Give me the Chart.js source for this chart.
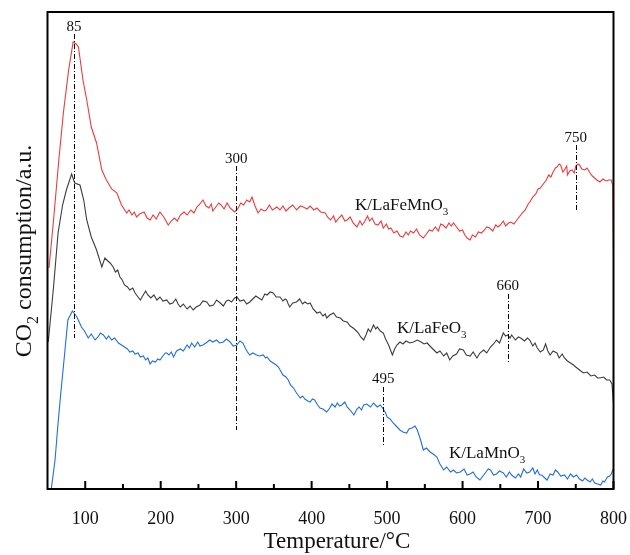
<!DOCTYPE html>
<html>
<head>
<meta charset="utf-8">
<script src="https://cdn.jsdelivr.net/npm/chart.js@4"></script>
<style>
  body { margin: 0; background: #fff; }
  #wrap { width: 630px; height: 555px; }
</style>
</head>
<body>
<div id="wrap"><canvas id="chart" width="630" height="555"></canvas></div>
<script>
// CO2-TPD curves (signal in a.u.)
var feMnTemp = [52, 58, 65, 71, 78, 84, 88, 91, 97, 102, 108, 115, 122,
  128, 135, 142, 148, 155, 158, 162, 165, 168, 172, 178, 182, 186, 190, 194, 199, 204, 210, 214, 218, 222, 226, 231, 235, 240, 244, 248, 252, 256, 260, 264, 267, 269, 273, 277, 280, 284, 288, 292, 295, 298, 302, 306, 310, 314, 318, 321, 325, 329, 333, 337, 340, 344, 348, 354, 358, 362, 366, 370, 375, 380, 385, 389, 394, 398, 403, 407, 412, 418, 421, 425, 429, 432, 436, 440, 444, 447, 451, 455, 460, 464, 467, 470, 474, 477, 480, 484, 488, 492, 495, 499, 502, 505, 509, 513, 517, 521, 525, 528, 531, 535, 539, 543, 548, 552, 556, 560, 564, 568, 571, 574, 578, 582, 585, 588, 592, 596, 600, 603, 606, 610, 613, 617, 621, 625, 629, 632, 636, 640, 644, 647, 650, 654, 657, 661, 664, 668, 672, 676, 679, 683, 687, 690, 693, 697, 700, 703, 707, 711, 714, 717, 720, 723, 725, 728, 730, 733, 735, 738, 739, 742, 745, 748, 750, 753, 755, 758, 762, 765, 769, 772, 775, 778, 782, 786, 790, 794, 797, 799, 800];
var feMnSignal = [221, 269, 329, 376, 419, 447, 445, 442, 409, 389, 362, 346, 319,
  309, 300, 296, 284, 276, 279, 274, 277, 272, 275, 277, 271, 269, 274, 270, 277, 272, 264, 268, 271, 268, 274, 277, 274, 279, 276, 282, 285, 289, 283, 281, 285, 278, 282, 286, 284, 280, 286, 281, 279, 277, 280, 286, 284, 289, 287, 292, 283, 276, 280, 278, 279, 284, 279, 282, 279, 283, 278, 281, 284, 279, 283, 282, 280, 283, 279, 281, 277, 276, 272, 269, 273, 267, 271, 274, 268, 269, 272, 266, 262, 268, 264, 267, 273, 268, 271, 265, 264, 268, 261, 265, 260, 261, 256, 258, 253, 252, 257, 254, 258, 256, 260, 254, 251, 255, 259, 258, 262, 258, 265, 264, 261, 266, 263, 266, 262, 258, 259, 254, 251, 249, 254, 252, 257, 256, 259, 262, 261, 258, 264, 262, 264, 268, 263, 266, 267, 265, 269, 273, 276, 279, 285, 288, 292, 295, 300, 301, 305, 309, 314, 312, 317, 321, 322, 325, 324, 317, 319, 323, 314, 318, 319, 316, 323, 325, 324, 320, 319, 321, 316, 313, 311, 309, 307, 310, 308, 309, 309, 304, 232];

var feTemp = [51, 58, 64, 70, 75, 82, 86, 93, 98, 102, 108, 115,
  122, 126, 130, 133, 137, 140, 143, 146, 149, 152, 156, 159, 163, 166, 170, 173, 176, 180, 183, 187, 191, 195, 199, 203, 208, 212, 216, 220, 223, 226, 230, 235, 239, 243, 247, 252, 256, 261, 265, 270, 274, 279, 283, 287, 290, 294, 298, 301, 305, 310, 314, 318, 322, 326, 330, 334, 338, 341, 345, 349, 353, 358, 362, 365, 367, 369, 371, 375, 380, 384, 388, 391, 395, 398, 402, 407, 411, 415, 418, 420, 424, 429, 433, 438, 442, 447, 451, 455, 458, 462, 465, 469, 472, 475, 478, 482, 485, 487, 491, 495, 498, 502, 505, 507, 510, 513, 517, 521, 525, 530, 535, 540, 545, 549, 553, 558, 562, 566, 570, 575, 579, 583, 587, 592, 596, 601, 605, 610, 614, 619, 623, 628, 632, 637, 641, 645, 649, 654, 657, 660, 663, 665, 670, 674, 677, 682, 686, 689, 693, 696, 699, 703, 707, 710, 713, 716, 720, 725, 728, 732, 735, 739, 743, 747, 750, 755, 760, 765, 770, 775, 779, 782, 787, 791, 795, 798, 800];
var feSignal = [147, 202, 256, 284, 299, 315, 306, 304, 289, 269, 252, 239,
  222, 231, 228, 226, 222, 217, 219, 212, 209, 204, 202, 199, 201, 196, 192, 189, 193, 198, 194, 191, 194, 189, 192, 188, 189, 185, 186, 190, 185, 182, 185, 180, 183, 179, 182, 184, 188, 187, 183, 184, 189, 186, 183, 188, 189, 187, 191, 192, 188, 189, 185, 187, 190, 193, 191, 189, 195, 194, 197, 196, 192, 192, 188, 190, 189, 185, 182, 186, 187, 190, 185, 187, 185, 186, 180, 176, 177, 173, 175, 171, 174, 176, 172, 171, 168, 167, 163, 161, 159, 156, 152, 149, 154, 160, 157, 164, 160, 162, 158, 156, 150, 144, 138, 134, 140, 144, 147, 145, 148, 146, 147, 149, 147, 145, 146, 142, 139, 136, 138, 133, 136, 129, 133, 135, 140, 139, 134, 133, 137, 131, 136, 139, 136, 142, 145, 149, 146, 156, 153, 154, 151, 154, 149, 152, 151, 148, 151, 149, 143, 146, 141, 137, 139, 145, 138, 134, 138, 136, 131, 135, 131, 128, 126, 124, 122, 119, 116, 117, 113, 114, 111, 111, 112, 109, 109, 105, 86];

var mnTemp = [55, 60, 64, 68, 71, 77, 83,
  89, 92, 95, 99, 104, 108, 113, 117, 120, 124, 128, 131, 135, 139, 144, 148, 152, 156, 159, 163, 166, 170, 173, 177, 180, 183, 186, 189, 193, 196, 199, 203, 206, 208, 211, 214, 217, 221, 226, 230, 235, 238, 241, 245, 249, 252, 256, 260, 265, 269, 274, 278, 283, 287, 292, 296, 301, 305, 309, 312, 315, 318, 322, 327, 331, 336, 339, 341, 345, 349, 353, 356, 359, 362, 366, 369, 372, 376, 380, 385, 388, 391, 395, 398, 401, 404, 408, 411, 415, 420, 424, 427, 431, 434, 437, 440, 444, 447, 451, 453, 456, 460, 463, 466, 469, 473, 478, 482, 487, 491, 495, 498, 500, 504, 508, 512, 517, 521, 526, 529, 533, 537, 540, 544, 548, 552, 557, 561, 566, 570, 575, 579, 584, 588, 592, 597, 602, 606, 610, 614, 618, 623, 627, 630, 634, 637, 641, 645, 649, 654, 658, 662, 665, 670, 674, 677, 681, 685, 689, 693, 696, 699, 702, 705, 709, 712, 716, 720, 723, 726, 730, 735, 739, 743, 747, 751, 755, 759, 762, 765, 769, 772, 775, 779, 783, 786, 788, 792, 795, 797, 799, 800];
var mnSignal = [0, 29, 66, 99, 122, 169, 178,
  172, 167, 162, 158, 151, 155, 149, 152, 156, 154, 150, 153, 149, 151, 146, 144, 142, 140, 137, 138, 135, 136, 132, 133, 129, 131, 125, 128, 127, 130, 129, 133, 136, 136, 134, 137, 132, 138, 140, 138, 144, 141, 146, 142, 147, 143, 144, 146, 149, 147, 149, 146, 147, 150, 147, 143, 144, 148, 146, 141, 137, 134, 136, 134, 133, 134, 131, 132, 128, 126, 124, 122, 118, 114, 112, 109, 104, 101, 96, 91, 93, 90, 88, 87, 90, 89, 84, 81, 80, 77, 81, 85, 82, 86, 83, 84, 87, 82, 79, 77, 74, 80, 82, 79, 84, 85, 82, 86, 82, 84, 80, 76, 72, 70, 66, 63, 59, 57, 56, 60, 61, 63, 59, 50, 39, 41, 37, 35, 32, 25, 19, 22, 17, 19, 16, 17, 20, 14, 15, 17, 12, 9, 13, 16, 20, 19, 14, 15, 18, 16, 12, 17, 14, 11, 15, 12, 20, 16, 17, 21, 15, 19, 14, 14, 11, 9, 15, 14, 19, 17, 13, 14, 10, 15, 12, 14, 10, 8, 11, 9, 7, 10, 6, 5, 4, 8, 7, 12, 13, 15, 19, 20];

var tickTemps = [100, 200, 300, 400, 500, 600, 700, 800];
var minorTemps = [150, 250, 350, 450, 550, 650, 750];

// peak markers: temperature, label
var peakTemps = [85, 300, 750, 660, 495];
var peakLabels = ['85', '300', '750', '660', '495'];

var seriesNames = ['K/LaFeMnO', 'K/LaFeO', 'K/LaMnO'];

var serif = '"Liberation Serif", "Times New Roman", serif';

// where the peak markers sit (a.u.): label baseline, line top, line bottom
var peakGeom = [
  { label: 458, top: 455, bottom: 151 },
  { label: 326, top: 323, bottom: 59 },
  { label: 347, top: 344, bottom: 279 },
  { label: 199, top: 195, bottom: 125 },
  { label: 106, top: 102, bottom: 44 }
];
// series name anchors (left edge temp, baseline a.u.)
var nameGeom = [
  { x: 457.5, y: 279 },
  { x: 513, y: 156 },
  { x: 582, y: 31 }
];

function pts(t, v) {
  return t.map(function (x, i) { return { x: x, y: v[i] }; });
}

function subText(ctx, main, sub, x, y, size) {
  ctx.font = size + 'px ' + serif;
  ctx.fillText(main, x, y);
  var w = ctx.measureText(main).width;
  ctx.font = Math.round(size * 0.65) + 'px ' + serif;
  ctx.fillText(sub, x + w, y + size * 0.3);
}

var decor = {
  id: 'decor',
  afterDatasetsDraw: function (chart) {
    var ctx = chart.ctx, a = chart.chartArea;
    var xs = chart.scales.x, ys = chart.scales.y;
    ctx.save();

    // peak markers
    ctx.strokeStyle = '#000';
    ctx.lineWidth = 1;
    ctx.setLineDash([5, 2, 1, 2]);
    peakTemps.forEach(function (t, i) {
      var px = Math.round(xs.getPixelForValue(t)) + 0.5;
      ctx.beginPath();
      ctx.moveTo(px, ys.getPixelForValue(peakGeom[i].top));
      ctx.lineTo(px, ys.getPixelForValue(peakGeom[i].bottom));
      ctx.stroke();
    });
    ctx.setLineDash([]);
    ctx.fillStyle = '#111';
    ctx.font = '15px ' + serif;
    ctx.textAlign = 'center';
    ctx.textBaseline = 'alphabetic';
    peakTemps.forEach(function (t, i) {
      ctx.fillText(peakLabels[i], xs.getPixelForValue(t), ys.getPixelForValue(peakGeom[i].label));
    });

    // series names
    ctx.textAlign = 'left';
    seriesNames.forEach(function (n, i) {
      subText(ctx, n, '3', xs.getPixelForValue(nameGeom[i].x), ys.getPixelForValue(nameGeom[i].y), 17);
    });

    // frame
    ctx.lineWidth = 2;
    ctx.strokeStyle = '#000';
    ctx.strokeRect(a.left, a.top, a.right - a.left, a.bottom - a.top);

    // inward ticks on the bottom axis
    ctx.beginPath();
    tickTemps.forEach(function (t) {
      var px = xs.getPixelForValue(t);
      ctx.moveTo(px, a.bottom);
      ctx.lineTo(px, a.bottom - 8);
    });
    minorTemps.forEach(function (t) {
      var px = xs.getPixelForValue(t);
      ctx.moveTo(px, a.bottom);
      ctx.lineTo(px, a.bottom - 5);
    });
    ctx.stroke();

    // x title
    ctx.fillStyle = '#111';
    ctx.font = '23px ' + serif;
    ctx.textAlign = 'center';
    ctx.fillText('Temperature/\u00b0C', 337, 548);

    // y title with subscript
    ctx.translate(31, 251);
    ctx.rotate(-Math.PI / 2);
    ctx.font = '24px ' + serif;
    var w1 = ctx.measureText('CO').width;
    var w3 = ctx.measureText(' consumption/a.u.').width;
    ctx.font = '16px ' + serif;
    var w2 = ctx.measureText('2').width;
    var x0 = -(w1 + w2 + w3) / 2;
    ctx.textAlign = 'left';
    ctx.font = '24px ' + serif;
    ctx.fillText('CO', x0, 0);
    ctx.font = '16px ' + serif;
    ctx.fillText('2', x0 + w1, 7);
    ctx.font = '24px ' + serif;
    ctx.fillText(' consumption/a.u.', x0 + w1 + w2, 0);

    ctx.restore();
  }
};

var chart = new Chart(document.getElementById('chart'), {
  type: 'line',
  data: {
    datasets: [
      { label: seriesNames[0], data: pts(feMnTemp, feMnSignal), borderColor: '#f03a3c' },
      { label: seriesNames[1], data: pts(feTemp, feSignal), borderColor: '#3c3c3c' },
      { label: seriesNames[2], data: pts(mnTemp, mnSignal), borderColor: '#1f6fdf' }
    ]
  },
  options: {
    responsive: false,
    animation: false,
    devicePixelRatio: 1,
    datasets: { line: { borderWidth: 1.1, pointRadius: 0, tension: 0, fill: false } },
    layout: { padding: { left: 47.5, right: 16.5, top: 12, bottom: 0 } },
    plugins: { legend: { display: false }, tooltip: { enabled: false } },
    scales: {
      x: {
        type: 'linear',
        min: 50,
        max: 800,
        afterBuildTicks: function (s) { s.ticks = tickTemps.map(function (v) { return { value: v }; }); },
        afterFit: function (s) { s.height = 66; s.paddingLeft = 0; s.paddingRight = 0; },
        grid: { display: false },
        border: { display: false },
        ticks: { padding: 11, color: '#111', font: { family: serif, size: 18 }, maxRotation: 0 }
      },
      y: { display: false, min: 0, max: 477 }
    }
  },
  plugins: [decor]
});
</script>
</body>
</html>
